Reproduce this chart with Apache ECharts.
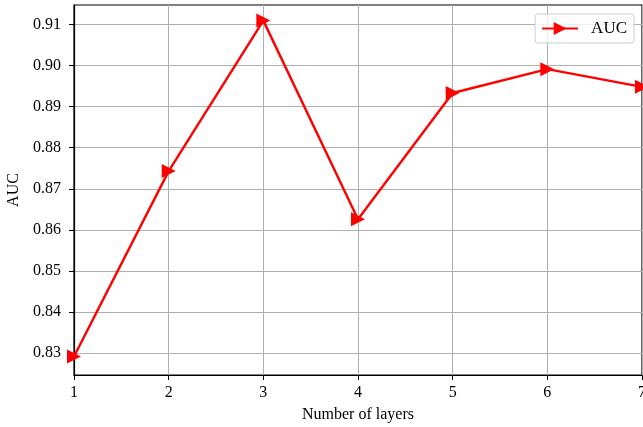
<!DOCTYPE html>
<html><head><meta charset="utf-8">
<script src="https://cdn.jsdelivr.net/npm/echarts@6/dist/echarts.min.js"></script>
<style>html,body{margin:0;padding:0;background:#fff}#c{width:643px;height:427px}</style>
</head><body><div id="c"></div>
<script>
const layers = [1, 2, 3, 4, 5, 6, 7];
const auc = [0.8292, 0.8743, 0.9109, 0.8626, 0.8933, 0.8991, 0.8948];
const yTicks = [0.83, 0.84, 0.85, 0.86, 0.87, 0.88, 0.89, 0.90, 0.91];
const font = 'Liberation Serif';
const chart = echarts.init(document.getElementById('c'));
chart.setOption({
  animation: false,
  textStyle: { fontFamily: font },
  grid: { left: 74, right: 1, top: 5, bottom: 52, show: true, borderColor: '#000', borderWidth: 1.2,
    containLabel: false, outerBoundsMode: 'none' },
  legend: {
    right: 9, top: 14, data: ['AUC'],
    itemWidth: 36, itemHeight: 16, itemGap: 8,
    textStyle: { fontFamily: font, fontSize: 17, color: '#000', padding: [0, 0, 0, 8] },
    borderColor: '#ccc', borderWidth: 1, borderRadius: 3, padding: [6, 7, 6, 6],
    backgroundColor: 'rgba(255,255,255,0.8)'
  },
  xAxis: {
    type: 'value', min: 1, max: 7, interval: 1,
    name: 'Number of layers', nameLocation: 'middle', nameGap: 32,
    nameTextStyle: { fontFamily: font, fontSize: 16, color: '#000' },
    axisLine: { lineStyle: { color: '#000', width: 1.2 } },
    axisTick: { show: true, length: 5, lineStyle: { color: '#000' } },
    axisLabel: { fontFamily: font, fontSize: 16, color: '#000', margin: 10 },
    splitLine: { show: true, lineStyle: { color: '#b0b0b0', width: 1 } }
  },
  yAxis: {
    type: 'value', min: 0.8247, max: 0.9147,
    name: 'AUC', nameLocation: 'middle', nameGap: 52, nameRotate: 90,
    nameTextStyle: { fontFamily: font, fontSize: 16, color: '#000' },
    axisLine: { show: true, lineStyle: { color: '#000', width: 1.2 } },
    axisTick: { show: true, length: 5, lineStyle: { color: '#000' }, customValues: yTicks },
    axisLabel: { fontFamily: font, fontSize: 16, color: '#000', margin: 13, customValues: yTicks,
      formatter: v => v.toFixed(2) },
    splitLine: { show: true, lineStyle: { color: '#b0b0b0', width: 1 } }
  },
  series: [{
    name: 'AUC', type: 'line',
    data: layers.map((x, i) => [x, auc[i]]),
    symbol: 'triangle', symbolRotate: -90, symbolSize: 14,
    lineStyle: { color: '#ff0000', width: 2.4 },
    itemStyle: { color: '#ff0000' },
    clip: false
  }]
});
</script></body></html>
